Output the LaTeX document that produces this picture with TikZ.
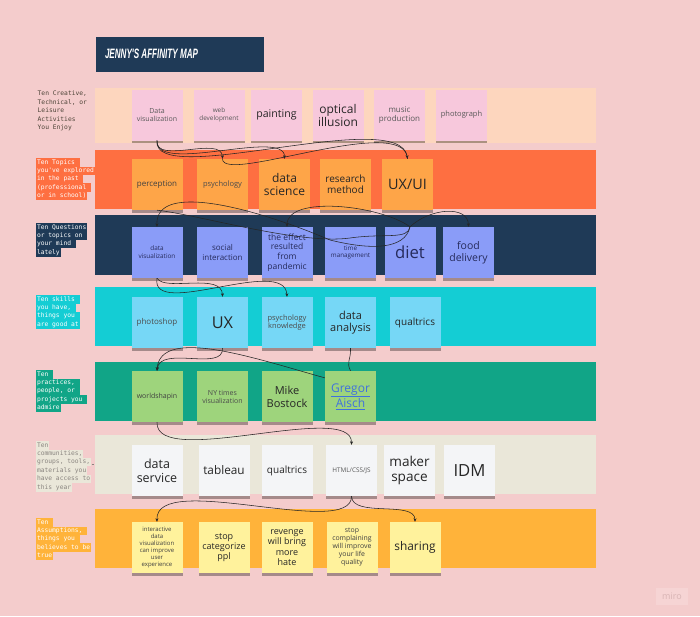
\documentclass[tikz,border=0pt]{standalone}
\usepackage{fontspec}
\setmainfont{Open Sans}
\newfontfamily\monof{DejaVu Sans Mono}
\newfontfamily\titlef{Liberation Sans}
\usetikzlibrary{shadows,arrows.meta}
\definecolor{bgpink}{HTML}{F4CCCC}
\definecolor{bandA}{HTML}{FDD6BE}
\definecolor{bandB}{HTML}{FE6F41}
\definecolor{bandC}{HTML}{1F3A57}
\definecolor{bandD}{HTML}{14CDD4}
\definecolor{bandE}{HTML}{11A587}
\definecolor{bandF}{HTML}{EAE7D9}
\definecolor{bandG}{HTML}{FFB33A}
\definecolor{stA}{HTML}{F7C8DC}
\definecolor{stB}{HTML}{FEA548}
\definecolor{stC}{HTML}{8A9CF8}
\definecolor{stD}{HTML}{76D7F6}
\definecolor{stE}{HTML}{9ED47C}
\definecolor{stF}{HTML}{F4F5F7}
\definecolor{stG}{HTML}{FFF29C}
\definecolor{textdark}{HTML}{262626}
\definecolor{textnavy}{HTML}{262B5C}
\definecolor{linkblue}{HTML}{3F72DD}
\definecolor{labgray}{HTML}{8A8580}
\definecolor{labdark}{HTML}{4E4438}
\definecolor{miroBox}{HTML}{F6D4D4}
\definecolor{miroText}{HTML}{D8B4B4}
\setlength{\fboxsep}{0pt}
\newcommand\hlline[2]{\colorbox{#1}{\strut\hspace{0.8pt}#2\hspace{0.8pt}}}
\newcommand\fs[2]{\fontsize{#1}{#2}\selectfont}
\tikzset{
  sticky/.style={draw=none, inner sep=0pt, minimum width=51pt, minimum height=51pt,
    align=center, text=textdark,
    drop shadow={shadow xshift=0pt, shadow yshift=-2.5pt, opacity=0.32, fill=black}},
  conn/.style={draw=black!85, line width=0.55pt},
  tip/.style={-{Stealth[length=3.5pt,width=3pt]}},
  lab/.style={inner sep=0pt, anchor=north west, align=left, font=\monof\fs{6.3}{8.4}},
}
\begin{document}
\begin{tikzpicture}[x=1pt,y=-1pt]
\useasboundingbox (0,0) rectangle (700,616);
\fill[bgpink] (0,0) rectangle (700,616);

% title
\fill[bandC] (95.5,36.5) rectangle (264,71.5);
\node[text=white, inner sep=0pt] (title) at (151.5,54)
  {\resizebox{93pt}{9.5pt}{\titlef\bfseries\itshape JENNY'S AFFINITY MAP}};

% bands
\fill[bandA] (95,88) rectangle (596,143);
\fill[bandB] (95,149.5) rectangle (596,209);
\fill[bandC] (95,215) rectangle (596,274.5);
\fill[bandD] (95,287) rectangle (596,346);
\fill[bandE] (95,362) rectangle (596,421);
\fill[bandF] (95,435) rectangle (596,494);
\fill[bandG] (95,509) rectangle (596,568);

% row labels
\node[lab, text=labdark] (l1) at (37.5,91) {Ten Creative,\\Technical, or\\Leisure\\Activities\\You Enjoy};
\node[lab, text=white] (l2) at (36,158) {\hlline{bandB}{Ten Topics }\\\hlline{bandB}{you've explored}\\\hlline{bandB}{in the past }\\\hlline{bandB}{(professional }\\\hlline{bandB}{or in school)}};
\node[lab, text=white] (l3) at (36,223) {\hlline{bandC}{Ten Questions}\\\hlline{bandC}{or topics on }\\\hlline{bandC}{your mind }\\\hlline{bandC}{lately}};
\node[lab, text=white] (l4) at (36,295) {\hlline{bandD}{Ten skills }\\\hlline{bandD}{you have, }\\\hlline{bandD}{things you }\\\hlline{bandD}{are good at}};
\node[lab, text=white] (l5) at (36,370) {\hlline{bandE}{Ten }\\\hlline{bandE}{practices, }\\\hlline{bandE}{people, or }\\\hlline{bandE}{projects you }\\\hlline{bandE}{admire}};
\node[lab, text=labgray] (l6) at (36,441) {\hlline{bandF}{Ten}\\\hlline{bandF}{communities,}\\\hlline{bandF}{groups, tools,}\\\hlline{bandF}{materials you}\\\hlline{bandF}{have access to}\\\hlline{bandF}{this year}};
\node[lab, text=white] (l7) at (36,518) {\hlline{bandG}{Ten }\\\hlline{bandG}{Assumptions, }\\\hlline{bandG}{things you }\\\hlline{bandG}{believes to be}\\\hlline{bandG}{true}};
\draw[labgray, line width=0.5pt] (91.5,464) -- (94,464);

% row 1
\node[sticky, fill=stA, font=\fs{7}{8.5}, text=black!65] (dvA) at (157,115) {Data\\visualization};
\node[sticky, fill=stA, font=\fs{6.4}{7.8}, text=black!65] (web) at (219,115) {web\\development};
\node[sticky, fill=stA, font=\fs{10.6}{12}] (paint) at (276.5,115) {painting};
\node[sticky, fill=stA, font=\fs{12}{13}] (optic) at (338,115) {optical\\illusion};
\node[sticky, fill=stA, font=\fs{8}{9}, text=black!65] (music) at (399.5,115) {music\\production};
\node[sticky, fill=stA, font=\fs{7.5}{9}, text=black!65] (photo) at (461.5,115) {photograph};

% row 2
\node[sticky, fill=stB, font=\fs{8}{9.5}, text=black!75] (perc) at (157,184.5) {perception};
\node[sticky, fill=stB, font=\fs{7.5}{9}, text=black!70] (psych) at (222.5,184.5) {psychology};
\node[sticky, fill=stB, font=\fs{12}{13.5}] (dsci) at (284.5,184.5) {data\\science};
\node[sticky, fill=stB, font=\fs{10}{11.2}] (rmeth) at (345.5,184.5) {research\\method};
\node[sticky, fill=stB, font=\fs{14.4}{16}] (uxui) at (407.5,184.5) {UX/UI};

% row 3
\node[sticky, fill=stC, font=\fs{6.4}{8}, text=textnavy] (dvC) at (157,252.5) {data\\visualization};
\node[sticky, fill=stC, font=\fs{8}{9.5}, text=textnavy] (social) at (222.5,252.5) {social\\interaction};
\node[sticky, fill=stC, font=\fs{8.5}{9.8}, text=textnavy] (effect) at (287,252.5) {the effect\\resulted\\from\\pandemic};
\node[sticky, fill=stC, font=\fs{6.3}{7.2}, text=textnavy] (timem) at (350.5,252.5) {time\\management};
\node[sticky, fill=stC, font=\fs{16.7}{18}, text=textnavy] (diet) at (410,252.5) {diet};
\node[sticky, fill=stC, font=\fs{10.5}{12}, text=textnavy] (food) at (468.5,252.5) {food\\delivery};

% row 4
\node[sticky, fill=stD, font=\fs{8}{9.5}, text=black!70] (pshop) at (157,322.5) {photoshop};
\node[sticky, fill=stD, font=\fs{16.3}{18}] (ux) at (222.5,322.5) {UX};
\node[sticky, fill=stD, font=\fs{7.5}{8.2}, text=black!70] (psyk) at (287,322.5) {psychology\\knowledge};
\node[sticky, fill=stD, font=\fs{11}{12.5}] (danal) at (350.5,322.5) {data\\analysis};
\node[sticky, fill=stD, font=\fs{10}{11}] (qualD) at (415,322.5) {qualtrics};

% row 5
\node[sticky, fill=stE, font=\fs{7}{8.5}, text=black!75] (wshap) at (157,396.5) {worldshapin};
\node[sticky, fill=stE, font=\fs{7}{8}, text=black!70] (nyt) at (222.5,396.5) {NY times\\visualization};
\node[sticky, fill=stE, font=\fs{11}{12.8}] (mike) at (287,396.5) {Mike\\Bostock};
\node[sticky, fill=stE, font=\fs{12}{13}, text=linkblue] (gregor) at (350.5,396.5) {\underline{Gregor}\\\underline{Aisch}};

% row 6
\node[sticky, fill=stF, font=\fs{12.5}{14}] (dserv) at (157,470.5) {data\\service};
\node[sticky, fill=stF, font=\fs{11.8}{13}] (tabl) at (224,470.5) {tableau};
\node[sticky, fill=stF, font=\fs{10}{11}] (qualF) at (287,470.5) {qualtrics};
\node[sticky, fill=stF, font=\fs{6.4}{7.5}, text=black!65] (html) at (351.5,470.5) {HTML/CSS/JS};
\node[sticky, fill=stF, font=\fs{13.6}{15.5}] (maker) at (409.5,470.5) {maker\\space};
\node[sticky, fill=stF, font=\fs{16.7}{18}] (idm) at (469.5,470.5) {IDM};

% row 7
\node[sticky, fill=stG, font=\fs{6}{7.1}, text=black!75] (inter) at (157,547.5) {interactive\\data\\visualization\\can improve\\user\\experience};
\node[sticky, fill=stG, font=\fs{9}{9.8}] (stopc) at (224,547.5) {stop\\categorize\\ppl};
\node[sticky, fill=stG, font=\fs{9}{10.5}] (reven) at (287,547.5) {revenge\\will bring\\more\\hate};
\node[sticky, fill=stG, font=\fs{6.9}{8}, text=black!75] (stopcomp) at (352,547.5) {stop\\complaining\\will improve\\your life\\quality};
\node[sticky, fill=stG, font=\fs{11.9}{13}] (share) at (415,547.5) {sharing};

% connectors rows 1-2
\draw[conn, tip] (dvA.south) .. controls (155,165) and (222,135) .. (psych.north);
\draw[conn, tip] (dvA.south) .. controls (155,175) and (285,128) .. (dsci.north);
\draw[conn, tip] (dvA.south) .. controls (152,190) and (400,105) .. (uxui.north);
\draw[conn] (psych.north) .. controls (222,185) and (405,112) .. (uxui.north);

% connectors rows 2-3
\draw[conn, tip] (diet.north) .. controls (405,250) and (370,250) .. (330,240)
   .. controls (260,210) and (155,180) .. (dvC.north);
\draw[conn] (perc.south) .. controls (200,215) and (300,245) .. (350,238)
   .. controls (385,233) and (408,240) .. (diet.north);
\draw[conn, tip] (diet.north) .. controls (380,205) and (287,195) .. (effect.north);
\draw[conn, tip] (diet.north) .. controls (430,208) and (468,205) .. (food.north);

% connectors rows 3-4
\draw[conn, tip] (dvC.south) .. controls (165,292) and (222,272) .. (ux.north);
\draw[conn, tip] (dvC.south) .. controls (150,320) and (285,255) .. (psyk.north);

% connectors rows 4-5
\draw[conn, tip] (ux.south) .. controls (224,372) and (160,345) .. (wshap.north);
\draw[conn, tip] (gregor.144) .. controls (260,360) and (160,325) .. (wshap.north);
\draw[conn] (danal.south) .. controls (351,360) and (346,362) .. (gregor.north);

% connectors rows 5-6
\draw[conn, tip] (wshap.south) .. controls (155,470) and (352,400) .. (html.north);

% connectors rows 6-7
\draw[conn, tip] (html.south) .. controls (352,540) and (155,470) .. (inter.north);
\draw[conn, tip] (html.south) .. controls (352,518) and (415,500) .. (share.north);

% watermark
\node[fill=miroBox, text=miroText, inner sep=2pt, minimum width=32pt, minimum height=17pt,
  font=\fs{9}{10}] (miro) at (672,596.5) {miro};
\end{tikzpicture}
\end{document}
